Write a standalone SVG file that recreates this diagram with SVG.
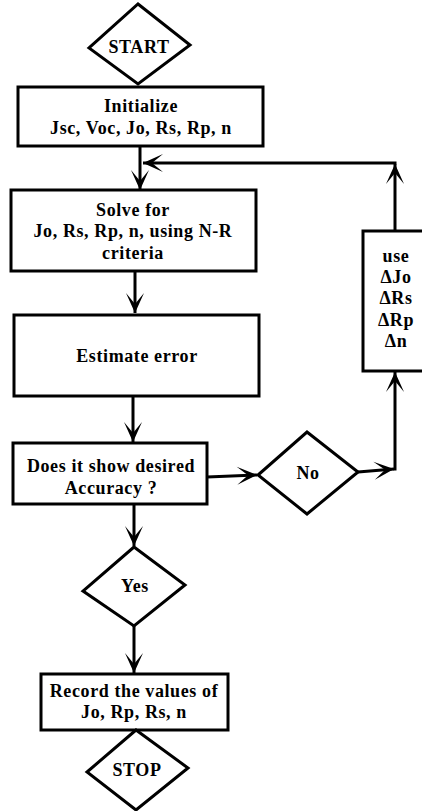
<svg xmlns="http://www.w3.org/2000/svg" width="422" height="811" viewBox="0 0 422 811">
<style>
.box{fill:#fff;stroke:#000;stroke-width:3}
.dia{fill:#fff;stroke:#000;stroke-width:3;stroke-linejoin:miter}
.ln{fill:none;stroke:#000;stroke-width:3}
text{font-family:"Liberation Serif","Times New Roman",serif;font-weight:bold;font-size:18px;letter-spacing:0.6px;text-anchor:middle;fill:#000}
</style>
<defs>
<marker id="ah" viewBox="-21 -10 22 20" refX="0" refY="0" markerWidth="22" markerHeight="20" markerUnits="userSpaceOnUse" orient="auto">
<path d="M0,0 L-20,-9 L-9,0 L-20,9 Z" fill="#000"/>
</marker>
</defs>
<g id="connectors">
<line class="ln" x1="140" y1="146" x2="140" y2="190" marker-end="url(#ah)"/>
<line class="ln" x1="395" y1="231" x2="395" y2="164" marker-end="url(#ah)"/>
<line class="ln" x1="396.5" y1="163" x2="143" y2="163" marker-end="url(#ah)"/>
<line class="ln" x1="135" y1="271" x2="135" y2="313" marker-end="url(#ah)"/>
<line class="ln" x1="133" y1="396" x2="133" y2="442" marker-end="url(#ah)"/>
<line class="ln" x1="207" y1="477" x2="257" y2="475" marker-end="url(#ah)"/>
<line class="ln" x1="358" y1="472" x2="394" y2="469" marker-end="url(#ah)"/>
<line class="ln" x1="395" y1="470.5" x2="395" y2="372" marker-end="url(#ah)"/>
<line class="ln" x1="134" y1="504" x2="134" y2="546" marker-end="url(#ah)"/>
<line class="ln" x1="134" y1="626" x2="134" y2="673" marker-end="url(#ah)"/>
</g>
<g id="start">
<polygon class="dia" points="138,4 190,45 138,84 89,48"/>
<text x="139" y="53">START</text>
</g>
<g id="init">
<rect class="box" x="18" y="87" width="245" height="59"/>
<text x="141" y="112">Initialize</text>
<text x="141" y="134">Jsc, Voc, Jo, Rs, Rp, n</text>
</g>
<g id="solve">
<rect class="box" x="11" y="190" width="245" height="81"/>
<text x="133" y="216">Solve for</text>
<text x="133" y="237">Jo, Rs, Rp, n, using N-R</text>
<text x="133" y="259">criteria</text>
</g>
<g id="estimate">
<rect class="box" x="14" y="315" width="245" height="81"/>
<text x="137" y="362">Estimate error</text>
</g>
<g id="use">
<rect class="box" x="363" y="231" width="62" height="140"/>
<text x="396" y="262">use</text>
<text x="396" y="283">ΔJo</text>
<text x="396" y="304">ΔRs</text>
<text x="396" y="326">ΔRp</text>
<text x="396" y="347">Δn</text>
</g>
<g id="decision">
<rect class="box" x="13" y="443" width="194" height="61"/>
<text x="111" y="472">Does it show desired</text>
<text x="111" y="494">Accuracy ?</text>
</g>
<g id="no">
<polygon class="dia" points="307,432 358,472 307,514 258,475"/>
<text x="308" y="479">No</text>
</g>
<g id="yes">
<polygon class="dia" points="134,547 185,585 134,626 83,591"/>
<text x="135" y="592">Yes</text>
</g>
<g id="record">
<rect class="box" x="41" y="674" width="187" height="56"/>
<text x="134" y="697">Record the values of</text>
<text x="134" y="718">Jo, Rp, Rs, n</text>
</g>
<g id="stop">
<polygon class="dia" points="136,730 188,768 136,810 87,772"/>
<text x="137" y="776">STOP</text>
</g>
</svg>
